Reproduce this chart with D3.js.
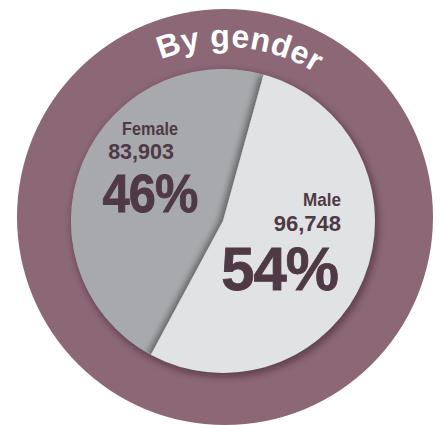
<!DOCTYPE html>
<html>
<head>
<meta charset="utf-8">
<script src="https://cdn.jsdelivr.net/npm/d3@7"></script>
<style>
  html, body { margin: 0; padding: 0; background: #ffffff; }
  svg { display: block; }
</style>
</head>
<body>
<svg id="chart" width="440" height="425"></svg>
<script>
// ---- data ----
const title = "By gender";
const categories = ["Male", "Female"];
const counts = [96748, 83903];
const percentLabels = ["54%", "46%"];

// ---- layout / style ----
const ringCx = 225, ringCy = 217, ringR = 208;
const pieCx = 223, pieCy = 221, pieR = 152;
const ringColor = "#8c6877";
const sliceColors = { Male: "#e1e2e4", Female: "#a8a9ac" };
const textColor = "#4e3944";
const startDeg = 15.5;

const svg = d3.select("#chart");
const defs = svg.append("defs");

const drop = defs.append("filter").attr("id", "pieShadow")
  .attr("x", "-20%").attr("y", "-20%").attr("width", "140%").attr("height", "140%");
drop.append("feDropShadow").attr("dx", 2).attr("dy", 3)
  .attr("stdDeviation", 4).attr("flood-color", "#2a1620").attr("flood-opacity", 0.6);

const fold = defs.append("filter").attr("id", "foldShadow")
  .attr("x", "-20%").attr("y", "-20%").attr("width", "140%").attr("height", "140%");
fold.append("feDropShadow").attr("dx", -4).attr("dy", 0)
  .attr("stdDeviation", 3).attr("flood-color", "#000").attr("flood-opacity", 0.4);

defs.append("clipPath").attr("id", "pieClip")
  .append("circle").attr("cx", 0).attr("cy", 0).attr("r", pieR);

// outer ring
svg.append("circle")
  .attr("cx", ringCx).attr("cy", ringCy).attr("r", ringR)
  .attr("fill", ringColor);

// pie
const data = categories.map((c, i) => ({ name: c, value: counts[i], pct: percentLabels[i] }));
const start = startDeg * Math.PI / 180;
const pie = d3.pie().sort(null).value(d => d.value)
  .startAngle(start).endAngle(start + 2 * Math.PI);
const arcs = pie(data);
const arc = d3.arc().innerRadius(0).outerRadius(pieR);

const pg = svg.append("g").attr("transform", `translate(${pieCx},${pieCy})`);
pg.append("g").attr("filter", "url(#pieShadow)")
  .append("path")
  .attr("d", d3.arc().innerRadius(0).outerRadius(pieR).startAngle(0).endAngle(2 * Math.PI)())
  .attr("fill", sliceColors.Female);

const inner = pg.append("g").attr("clip-path", "url(#pieClip)");
const order = arcs.slice().sort((a, b) => (a.data.name === "Female" ? -1 : 1));
inner.selectAll("path.slice")
  .data(order)
  .join("path")
  .attr("class", "slice")
  .attr("d", arc)
  .attr("fill", d => sliceColors[d.data.name])
  .attr("filter", d => d.data.name === "Male" ? "url(#foldShadow)" : null);

// labels
const fmt = d3.format(",");
const lab = svg.append("g").attr("fill", textColor)
  .attr("font-family", "'Liberation Sans', Arial, Helvetica, sans-serif")
  .attr("font-weight", "bold");

// [x, y, font-size, scaleX]
const labelSpec = {
  Female: { anchor: "middle", name: [150, 135, 18, 0.9], num: [141, 159, 21.5, 1.0], pct: [150, 212, 53, 0.92] },
  Male:   { anchor: "end",    name: [341, 206, 18, 0.95], num: [341, 231, 22, 1.0], pct: [338, 290, 61, 0.98] }
};
function put(spec, txt, anchor, extra) {
  const t = lab.append("text")
    .attr("transform", `translate(${spec[0]},${spec[1]}) scale(${spec[3]},1)`)
    .attr("font-size", spec[2]).attr("text-anchor", anchor).text(txt);
  if (extra) extra(t);
}
data.forEach(d => {
  const s = labelSpec[d.name];
  put(s.name, d.name, s.anchor);
  put(s.num, fmt(d.value), s.anchor);
  put(s.pct, d.pct, s.anchor, t => t.attr("letter-spacing", -1)
    .attr("stroke", textColor).attr("stroke-width", 0.8));
});

// curved title
const tr = 170;
const titleCenterDeg = 5;
const a0 = (titleCenterDeg - 90 - 60) * Math.PI / 180;
const a1 = (titleCenterDeg - 90 + 60) * Math.PI / 180;
const p = d3.path();
p.arc(ringCx, ringCy, tr, a0, a1, false);
defs.append("path").attr("id", "titlePath").attr("d", p.toString());
svg.append("text")
  .attr("fill", "#ffffff")
  .attr("font-family", "'Liberation Sans', Arial, Helvetica, sans-serif")
  .attr("font-weight", "bold")
  .attr("font-size", 32)
  .attr("letter-spacing", 0.5)
  .append("textPath")
  .attr("href", "#titlePath")
  .attr("startOffset", "50%")
  .attr("text-anchor", "middle")
  .text(title);
</script>
</body>
</html>
